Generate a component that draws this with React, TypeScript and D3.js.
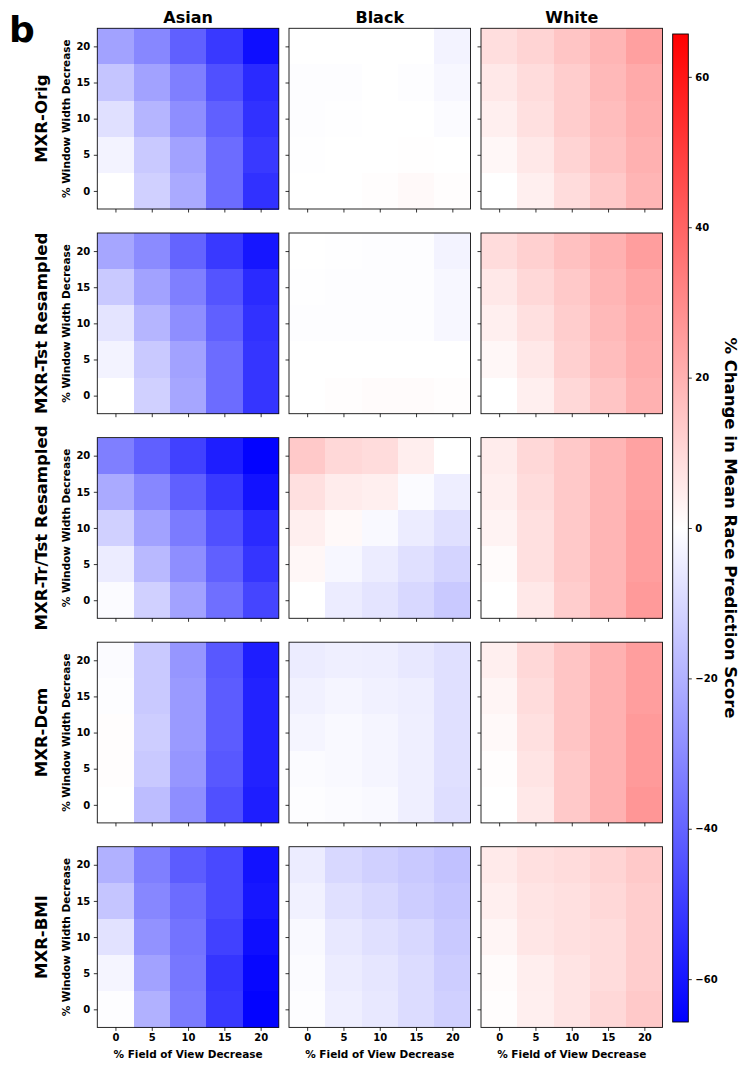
import React, { useRef, useEffect } from "react";
import * as d3 from "d3";

// axis levels
const FOV = [0, 5, 10, 15, 20];
// grid rows below are listed top -> bottom
const WINDOW = [20, 15, 10, 5, 0];
const RACES = ["Asian", "Black", "White"];
const MODELS = ["MXR-Orig", "MXR-Tst Resampled", "MXR-Tr/Tst Resampled", "MXR-Dcm", "MXR-BMI"];
const CBAR_TICKS = [-60, -40, -20, 0, 20, 40, 60];
const VMAX = 65.7;

// % change in mean race prediction score
const asianOrig = [
  [-24, -31, -41, -51, -62],
  [-15, -24, -33, -45, -55],
  [-8, -19, -29, -41, -53],
  [-3, -14, -24, -38, -51],
  [0, -12, -22, -38, -53],
];
const blackOrig = [
  [0, 0, 0, 0, -3],
  [-0.5, -0.5, 0, -0.5, -2],
  [-0.5, -0.3, 0, 0, -1],
  [-0.2, 0, 0, 0.3, 0],
  [0, 0, 0.5, 1.5, 0.5],
];
const whiteOrig = [
  [8.5, 11, 15, 19, 24.5],
  [6, 9, 13, 18, 22],
  [4, 8, 13, 17, 21],
  [2, 6, 11, 16, 20],
  [0, 4, 9, 14, 19],
];

const asianTst = [
  [-23, -30, -40, -51, -60],
  [-14, -24, -33, -44, -55],
  [-7, -19, -29, -41, -53],
  [-3, -14, -24, -38, -52],
  [0, -12, -23, -38, -52],
];
const blackTst = [
  [0, -0.3, -0.5, -0.5, -3],
  [-0.3, -0.5, -0.5, -0.5, -2],
  [-0.5, -0.5, -0.5, -0.5, -2],
  [0, 0, 0, 0, 0],
  [0, 0.5, 1, 1, 0.5],
];
const whiteTst = [
  [9, 12, 16, 20, 25],
  [6, 10, 14, 19, 23],
  [4, 8, 13, 18, 22],
  [2, 6, 12, 17, 21],
  [0, 4, 10, 15, 20],
];

const asianTrTst = [
  [-33, -41, -49, -58, -65],
  [-22, -31, -41, -51, -61],
  [-12, -24, -34, -45, -55],
  [-5, -18, -29, -41, -52],
  [-1, -12, -24, -37, -48],
];
const blackTrTst = [
  [14, 10, 9, 4.5, 0],
  [8, 5, 4, -1, -4.5],
  [4, 1.5, -1.5, -5, -8],
  [2, -2, -5, -8, -11],
  [0, -5, -7, -10, -14],
];
const whiteTrTst = [
  [5, 10, 14, 19, 24],
  [4, 9, 14, 19, 24],
  [3, 8, 14, 19, 25],
  [1, 8, 14, 19, 25],
  [0, 6, 13, 19, 26],
];

const asianDcm = [
  [-1, -14, -27, -43, -58],
  [-0.5, -14, -26, -42, -57],
  [0.5, -13, -26, -42, -57],
  [0.5, -14, -27, -43, -57],
  [0, -17, -29, -45, -58],
];
const blackDcm = [
  [-5, -4, -4.5, -6, -8],
  [-3.5, -2.5, -3.5, -4.5, -8],
  [-2.5, -1.5, -2.5, -4, -8],
  [-1, -1.5, -2.5, -4, -8],
  [-0.5, -1, -1.5, -4, -8.5],
];
const whiteDcm = [
  [4, 10, 15, 20, 25],
  [2.5, 9, 15, 20, 25],
  [1.5, 8, 15, 20, 26],
  [0.5, 7, 14, 20, 26],
  [0, 6, 14, 20, 27],
];

const asianBmi = [
  [-20, -33, -42, -47, -61],
  [-15, -31, -38, -47, -60],
  [-7.5, -28, -36, -49, -62],
  [-2.5, -24, -35, -52, -64],
  [-0.5, -20, -34, -51, -65],
];
const blackBmi = [
  [-5, -10, -12, -14, -16],
  [-3.5, -8, -10, -13, -15],
  [-1.5, -6, -8, -10, -14],
  [-1, -5, -6.5, -9, -13],
  [-0.5, -4, -6, -9, -12],
];
const whiteBmi = [
  [5.5, 8, 9, 11, 14],
  [4, 7, 8, 10, 13],
  [2.5, 6.5, 8, 9, 13],
  [1, 4.5, 7, 9, 13],
  [0.5, 4, 7, 10, 14],
];

const GRIDS = [
  [asianOrig, blackOrig, whiteOrig],
  [asianTst, blackTst, whiteTst],
  [asianTrTst, blackTrTst, whiteTrTst],
  [asianDcm, blackDcm, whiteDcm],
  [asianBmi, blackBmi, whiteBmi],
];

const FONT = "'DejaVu Sans', sans-serif";

export default function App() {
  const ref = useRef<SVGSVGElement>(null);

  useEffect(() => {
    const svg = d3.select(ref.current);
    svg.selectAll("*").remove();

    const colX = [97.3, 289, 481];
    const rowY = [28.3, 233, 437.6, 642.2, 846.7];
    const PW = 181.5,
      PH = 180.7;

    const x = d3.scaleLinear().domain([-2.5, 22.5]).range([0, PW]);
    const y = d3.scaleLinear().domain([-2.5, 22.5]).range([PH, 0]);
    const color = d3
      .scaleLinear<string>()
      .domain([-VMAX, 0, VMAX])
      .range(["#0000ff", "#ffffff", "#ff0000"])
      .clamp(true);

    const styleAxis = (g: any) => {
      g.select(".domain").remove();
      g.selectAll("line").attr("stroke", "#000").attr("stroke-width", 0.8);
      g.selectAll("text")
        .attr("font-family", FONT)
        .attr("font-weight", "bold")
        .attr("font-size", 10)
        .attr("fill", "#000");
    };

    GRIDS.forEach((row, r) => {
      row.forEach((grid, c) => {
        const g = svg.append("g").attr("transform", `translate(${colX[c]},${rowY[r]})`);

        const cells = grid.flatMap((vals, i) =>
          vals.map((v, j) => ({ fov: FOV[j], win: WINDOW[i], v }))
        );
        g.selectAll("rect.cell")
          .data(cells)
          .join("rect")
          .attr("class", "cell")
          .attr("x", (d) => x(d.fov - 2.5))
          .attr("y", (d) => y(d.win + 2.5))
          .attr("width", (d) => x(d.fov + 2.5) - x(d.fov - 2.5) + 0.5)
          .attr("height", (d) => y(d.win - 2.5) - y(d.win + 2.5) + 0.5)
          .attr("fill", (d) => color(d.v))
          .attr("shape-rendering", "crispEdges");

        g.append("rect")
          .attr("width", PW)
          .attr("height", PH)
          .attr("fill", "none")
          .attr("stroke", "#111")
          .attr("stroke-width", 0.9);

        g.append("g")
          .attr("transform", `translate(0,${PH})`)
          .call(
            d3
              .axisBottom(x)
              .tickValues(FOV)
              .tickSize(3.5)
              .tickPadding(3.5)
              .tickFormat((d: any) => (r === MODELS.length - 1 ? String(d) : ""))
          )
          .call(styleAxis);

        g.append("g")
          .call(
            d3
              .axisLeft(y)
              .tickValues(FOV)
              .tickSize(3.5)
              .tickPadding(3.5)
              .tickFormat((d: any) => (c === 0 ? String(d) : ""))
          )
          .call(styleAxis);

        if (r === 0) {
          svg
            .append("text")
            .attr("x", colX[c] + PW / 2)
            .attr("y", 23)
            .attr("text-anchor", "middle")
            .attr("font-family", FONT)
            .attr("font-weight", "bold")
            .attr("font-size", 16)
            .text(RACES[c]);
        }
        if (r === MODELS.length - 1) {
          svg
            .append("text")
            .attr("x", colX[c] + PW / 2)
            .attr("y", 1057.5)
            .attr("text-anchor", "middle")
            .attr("font-family", FONT)
            .attr("font-weight", "bold")
            .attr("font-size", 10.5)
            .text("% Field of View Decrease");
        }
      });

      const cy = rowY[r] + PH / 2;
      svg
        .append("text")
        .attr("transform", `translate(47,${cy}) rotate(-90)`)
        .attr("text-anchor", "middle")
        .attr("font-family", FONT)
        .attr("font-weight", "bold")
        .attr("font-size", 16.5)
        .text(MODELS[r]);
      svg
        .append("text")
        .attr("transform", `translate(69.5,${cy}) rotate(-90)`)
        .attr("text-anchor", "middle")
        .attr("font-family", FONT)
        .attr("font-weight", "bold")
        .attr("font-size", 10.5)
        .text("% Window Width Decrease");
    });

    // panel letter
    svg
      .append("text")
      .attr("x", 9)
      .attr("y", 42)
      .attr("font-family", FONT)
      .attr("font-weight", "bold")
      .attr("font-size", 36)
      .text("b");

    // colorbar
    const cbX = 672.7,
      cbW = 15.6,
      cbTop = 34,
      cbBot = 1022;
    const cs = d3.scaleLinear().domain([-VMAX, VMAX]).range([cbBot, cbTop]);
    const grad = svg
      .append("defs")
      .append("linearGradient")
      .attr("id", "bwr")
      .attr("x1", 0)
      .attr("y1", 1)
      .attr("x2", 0)
      .attr("y2", 0);
    grad
      .selectAll("stop")
      .data([-VMAX, 0, VMAX])
      .join("stop")
      .attr("offset", (d) => (d + VMAX) / (2 * VMAX))
      .attr("stop-color", (d) => color(d));
    svg
      .append("rect")
      .attr("x", cbX)
      .attr("y", cbTop)
      .attr("width", cbW)
      .attr("height", cbBot - cbTop)
      .attr("fill", "url(#bwr)")
      .attr("stroke", "#000")
      .attr("stroke-width", 0.9);
    svg
      .append("g")
      .attr("transform", `translate(${cbX + cbW},0)`)
      .call(d3.axisRight(cs).tickValues(CBAR_TICKS).tickSize(3.5).tickPadding(3.5))
      .call(styleAxis);

    svg
      .append("text")
      .attr("transform", `translate(725,${(cbTop + cbBot) / 2}) rotate(90)`)
      .attr("text-anchor", "middle")
      .attr("font-family", FONT)
      .attr("font-weight", "bold")
      .attr("font-size", 16.5)
      .text("% Change in Mean Race Prediction Score");
  }, []);

  return (
    <svg
      ref={ref}
      width={741}
      height={1068}
      style={{ position: "absolute", left: 0, top: 0, background: "#fff" }}
    />
  );
}
